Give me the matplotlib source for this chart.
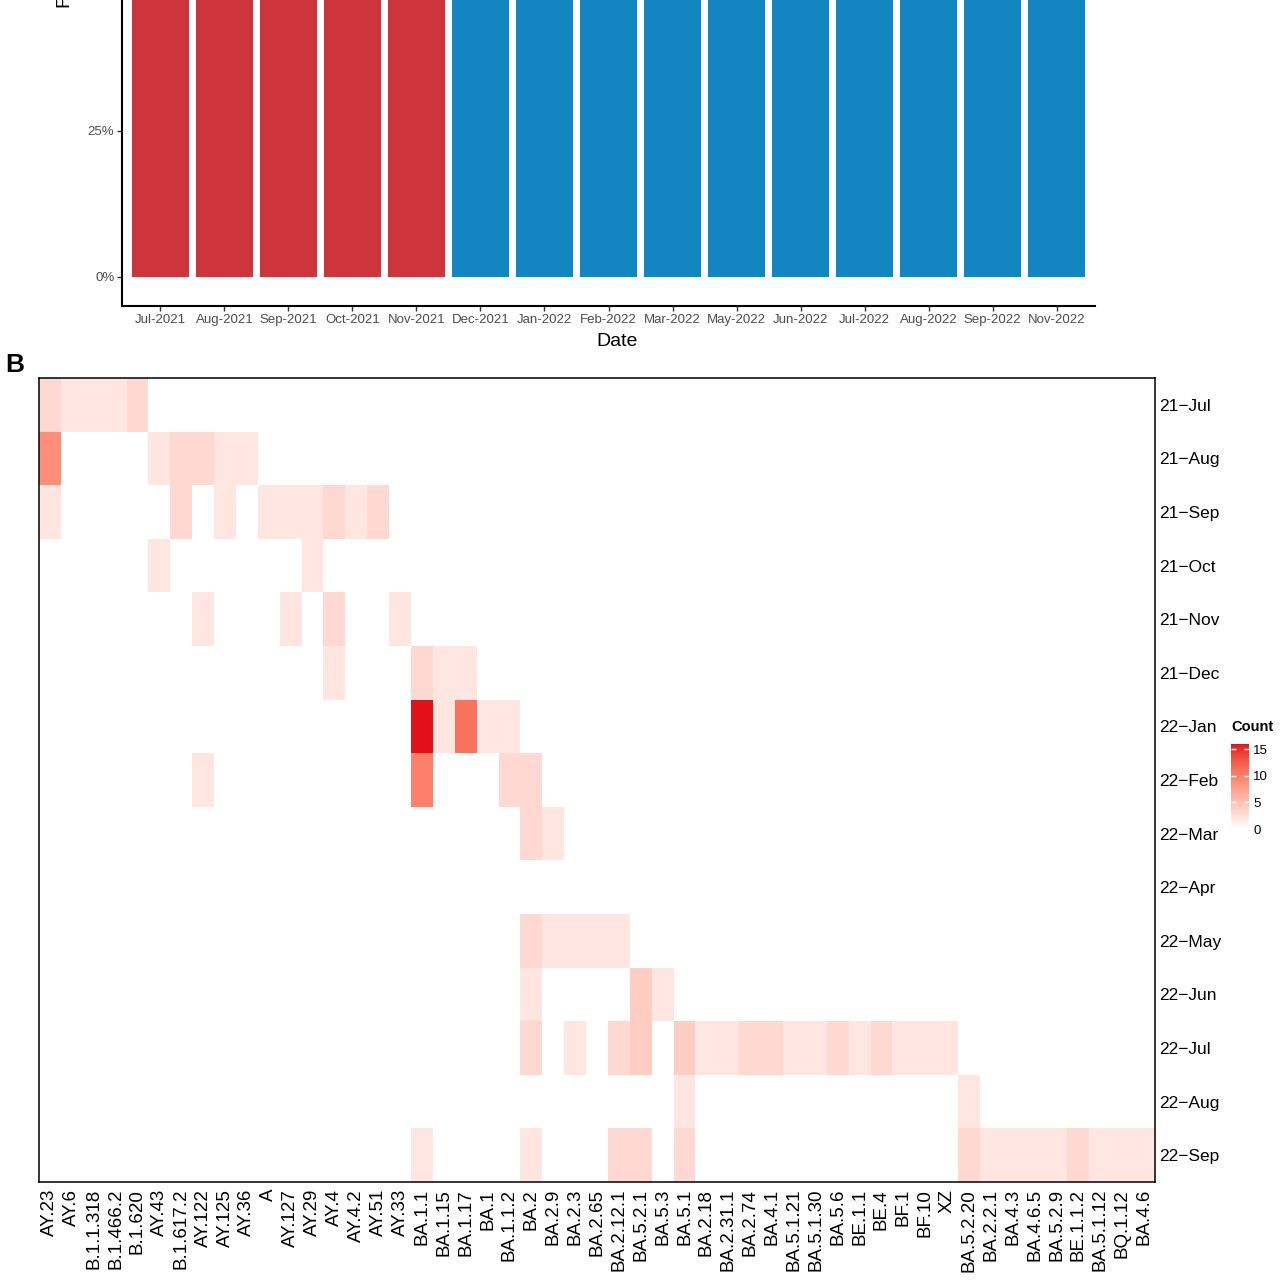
import numpy as np
import matplotlib
matplotlib.use('Agg')
import matplotlib.pyplot as plt
from matplotlib.colors import ListedColormap, to_rgb

plt.rcParams['font.family'] = ['Liberation Sans', 'DejaVu Sans']

# ---- panel A data (monthly shares, %) ----
months_a = ['Jul-2021', 'Aug-2021', 'Sep-2021', 'Oct-2021', 'Nov-2021', 'Dec-2021',
            'Jan-2022', 'Feb-2022', 'Mar-2022', 'May-2022', 'Jun-2022', 'Jul-2022',
            'Aug-2022', 'Sep-2022', 'Nov-2022']
omicron_share = [0, 0, 0, 0, 0, 80, 100, 93, 100, 100, 100, 100, 100, 100, 100]
other_share = [100, 100, 100, 100, 100, 20, 0, 7, 0, 0, 0, 0, 0, 0, 0]

# ---- panel B data (lineage counts per month) ----
months_b = ['21−Jul', '21−Aug', '21−Sep', '21−Oct', '21−Nov', '21−Dec', '22−Jan',
            '22−Feb', '22−Mar', '22−Apr', '22−May', '22−Jun', '22−Jul', '22−Aug', '22−Sep']
lineages = ['AY.23', 'AY.6', 'B.1.1.318', 'B.1.466.2', 'B.1.620', 'AY.43', 'B.1.617.2',
            'AY.122', 'AY.125', 'AY.36', 'A', 'AY.127', 'AY.29', 'AY.4', 'AY.4.2', 'AY.51',
            'AY.33', 'BA.1.1', 'BA.1.15', 'BA.1.17', 'BA.1', 'BA.1.1.2', 'BA.2', 'BA.2.9',
            'BA.2.3', 'BA.2.65', 'BA.2.12.1', 'BA.5.2.1', 'BA.5.3', 'BA.5.1', 'BA.2.18',
            'BA.2.31.1', 'BA.2.74', 'BA.4.1', 'BA.5.1.21', 'BA.5.1.30', 'BA.5.6', 'BE.1.1',
            'BE.4', 'BF.1', 'BF.10', 'XZ', 'BA.5.2.20', 'BA.2.2.1', 'BA.4.3', 'BA.4.6.5',
            'BA.5.2.9', 'BE.1.1.2', 'BA.5.1.12', 'BQ.1.12', 'BA.4.6']

rec_month = (['21−Jul'] * 5 + ['21−Aug'] * 6 + ['21−Sep'] * 9 + ['21−Oct'] * 2
             + ['21−Nov'] * 4 + ['21−Dec'] * 4 + ['22−Jan'] * 5 + ['22−Feb'] * 4
             + ['22−Mar'] * 2 + ['22−May'] * 5 + ['22−Jun'] * 3 + ['22−Jul'] * 17
             + ['22−Aug'] * 2 + ['22−Sep'] * 14)
rec_lineage = ['AY.23', 'AY.6', 'B.1.1.318', 'B.1.466.2', 'B.1.620',
               'AY.23', 'AY.43', 'B.1.617.2', 'AY.122', 'AY.125', 'AY.36',
               'AY.23', 'B.1.617.2', 'AY.125', 'A', 'AY.127', 'AY.29', 'AY.4', 'AY.4.2', 'AY.51',
               'AY.43', 'AY.29',
               'AY.122', 'AY.127', 'AY.4', 'AY.33',
               'AY.4', 'BA.1.1', 'BA.1.15', 'BA.1.17',
               'BA.1.1', 'BA.1.15', 'BA.1.17', 'BA.1', 'BA.1.1.2',
               'AY.122', 'BA.1.1', 'BA.1.1.2', 'BA.2',
               'BA.2', 'BA.2.9',
               'BA.2', 'BA.2.9', 'BA.2.3', 'BA.2.65', 'BA.2.12.1',
               'BA.2', 'BA.5.2.1', 'BA.5.3',
               'BA.2', 'BA.2.3', 'BA.2.12.1', 'BA.5.2.1', 'BA.5.1', 'BA.2.18', 'BA.2.31.1',
               'BA.2.74', 'BA.4.1', 'BA.5.1.21', 'BA.5.1.30', 'BA.5.6', 'BE.1.1', 'BE.4',
               'BF.1', 'BF.10', 'XZ',
               'BA.5.1', 'BA.5.2.20',
               'BA.1.1', 'BA.2', 'BA.2.12.1', 'BA.5.2.1', 'BA.5.1', 'BA.5.2.20', 'BA.2.2.1',
               'BA.4.3', 'BA.4.6.5', 'BA.5.2.9', 'BE.1.1.2', 'BA.5.1.12', 'BQ.1.12', 'BA.4.6']
rec_count = [3, 2, 2, 2, 3,
             9, 2, 3, 3, 2, 2,
             2, 3, 2, 2, 2, 2, 3, 2, 3,
             2, 2,
             2, 2, 3, 2,
             2, 3, 2, 2,
             16, 2, 11, 2, 2,
             2, 10, 3, 3,
             3, 2,
             3, 2, 2, 2, 2,
             2, 4, 2,
             3, 2, 3, 4, 4, 2, 2, 3, 3, 2, 2, 3, 2, 3, 2, 2, 2,
             2, 2,
             2, 2, 3, 3, 3, 3, 2, 2, 2, 2, 3, 2, 2, 2]

RED = '#CE353B'
BLUE = '#1385C1'
GREY = '#4D4D4D'


def to_lab(rgb):
    c = np.array(rgb, dtype=float)
    c = np.where(c > 0.04045, ((c + 0.055) / 1.055) ** 2.4, c / 12.92)
    m = np.array([[0.4124, 0.3576, 0.1805], [0.2126, 0.7152, 0.0722], [0.0193, 0.1192, 0.9505]])
    xyz = m @ c / np.array([0.95047, 1.0, 1.08883])
    f = np.where(xyz > 0.008856, np.cbrt(xyz), 7.787 * xyz + 16 / 116)
    return np.array([116 * f[1] - 16, 500 * (f[0] - f[1]), 200 * (f[1] - f[2])])


def from_lab(lab):
    fy = (lab[0] + 16) / 116
    f = np.array([fy + lab[1] / 500, fy, fy - lab[2] / 200])
    xyz = np.where(f ** 3 > 0.008856, f ** 3, (f - 16 / 116) / 7.787) * np.array([0.95047, 1.0, 1.08883])
    m = np.array([[3.2406, -1.5372, -0.4986], [-0.9689, 1.8758, 0.0415], [0.0557, -0.2040, 1.0570]])
    c = m @ xyz
    c = np.where(c > 0.0031308, 1.055 * np.clip(c, 0, None) ** (1 / 2.4) - 0.055, 12.92 * c)
    return np.clip(c, 0, 1)


# white -> red, interpolated in Lab like ggplot's gradient
lo, hi = to_lab(to_rgb('white')), to_lab(to_rgb('#E3101C'))
cmap = ListedColormap([from_lab(lo + t * (hi - lo)) for t in np.linspace(0, 1, 256)])

W, H = 1280, 1281
fig = plt.figure(figsize=(W / 100, H / 100), dpi=100)

# ---- panel A (top of it runs off the figure) ----
ax_a = fig.add_axes([122 / W, 1 - 306 / H, 973 / W, 642 / H])
x = np.arange(1, len(months_a) + 1)
ax_a.bar(x, omicron_share, width=0.9, color=BLUE)
ax_a.bar(x, other_share, width=0.9, bottom=omicron_share, color=RED)
ax_a.set_xlim(0.4, len(months_a) + 0.6)
ax_a.set_ylim(-5, 105)
ax_a.set_yticks([0, 25])
ax_a.set_yticklabels(['0%', '25%'])
ax_a.set_xticks(x)
ax_a.set_xticklabels(months_a)
ax_a.tick_params(labelsize=9.5, labelcolor=GREY, length=3.5, width=1, color='#333333', pad=2)
for s in ['top', 'right']:
    ax_a.spines[s].set_visible(False)
for s in ['left', 'bottom']:
    ax_a.spines[s].set_linewidth(1.5)
fig.text(617 / W, 1 - 341 / H, 'Date', fontsize=14, ha='center', va='center')
fig.text(64 / W, 1 - 7 / H, 'Frequency', fontsize=14, rotation=90, ha='center', va='bottom')

# ---- panel B ----
ax_b = fig.add_axes([39 / W, 1 - 1182 / H, 1116 / W, 804 / H])
grid = np.zeros((len(months_b), len(lineages)))
for m, l, c in zip(rec_month, rec_lineage, rec_count):
    grid[months_b.index(m), lineages.index(l)] = c
mesh = ax_b.pcolormesh(np.arange(len(lineages) + 1), np.arange(len(months_b) + 1), grid,
                       cmap=cmap, vmin=0, vmax=16)
ax_b.set_ylim(len(months_b), 0)
ax_b.set_xlim(0, len(lineages))
ax_b.set_xticks(np.arange(len(lineages)) + 0.5)
ax_b.set_xticklabels(lineages, rotation=90, fontsize=13.5)
ax_b.set_yticks(np.arange(len(months_b)) + 0.5)
ax_b.set_yticklabels(months_b, fontsize=12.5)
ax_b.yaxis.tick_right()
ax_b.tick_params(axis='both', length=0)
ax_b.tick_params(axis='x', pad=5)
ax_b.tick_params(axis='y', pad=3)
for s in ax_b.spines.values():
    s.set_linewidth(1.1)
fig.text(5 / W, 1 - 365 / H, 'B', fontsize=19, fontweight='bold', ha='left', va='center')

cax = fig.add_axes([1231 / W, 1 - 829 / H, 18 / W, 85 / H])
cb = fig.colorbar(mesh, cax=cax, ticks=[0, 5, 10, 15])
cb.outline.set_visible(False)
cax.tick_params(labelsize=9.5, length=3.5, width=1, color='white', direction='in',
                left=True, right=True, pad=3)
fig.text(1231 / W, 1 - 727 / H, 'Count', fontsize=10.5, fontweight='bold', ha='left', va='center')

fig.savefig('out.png', dpi=100)
